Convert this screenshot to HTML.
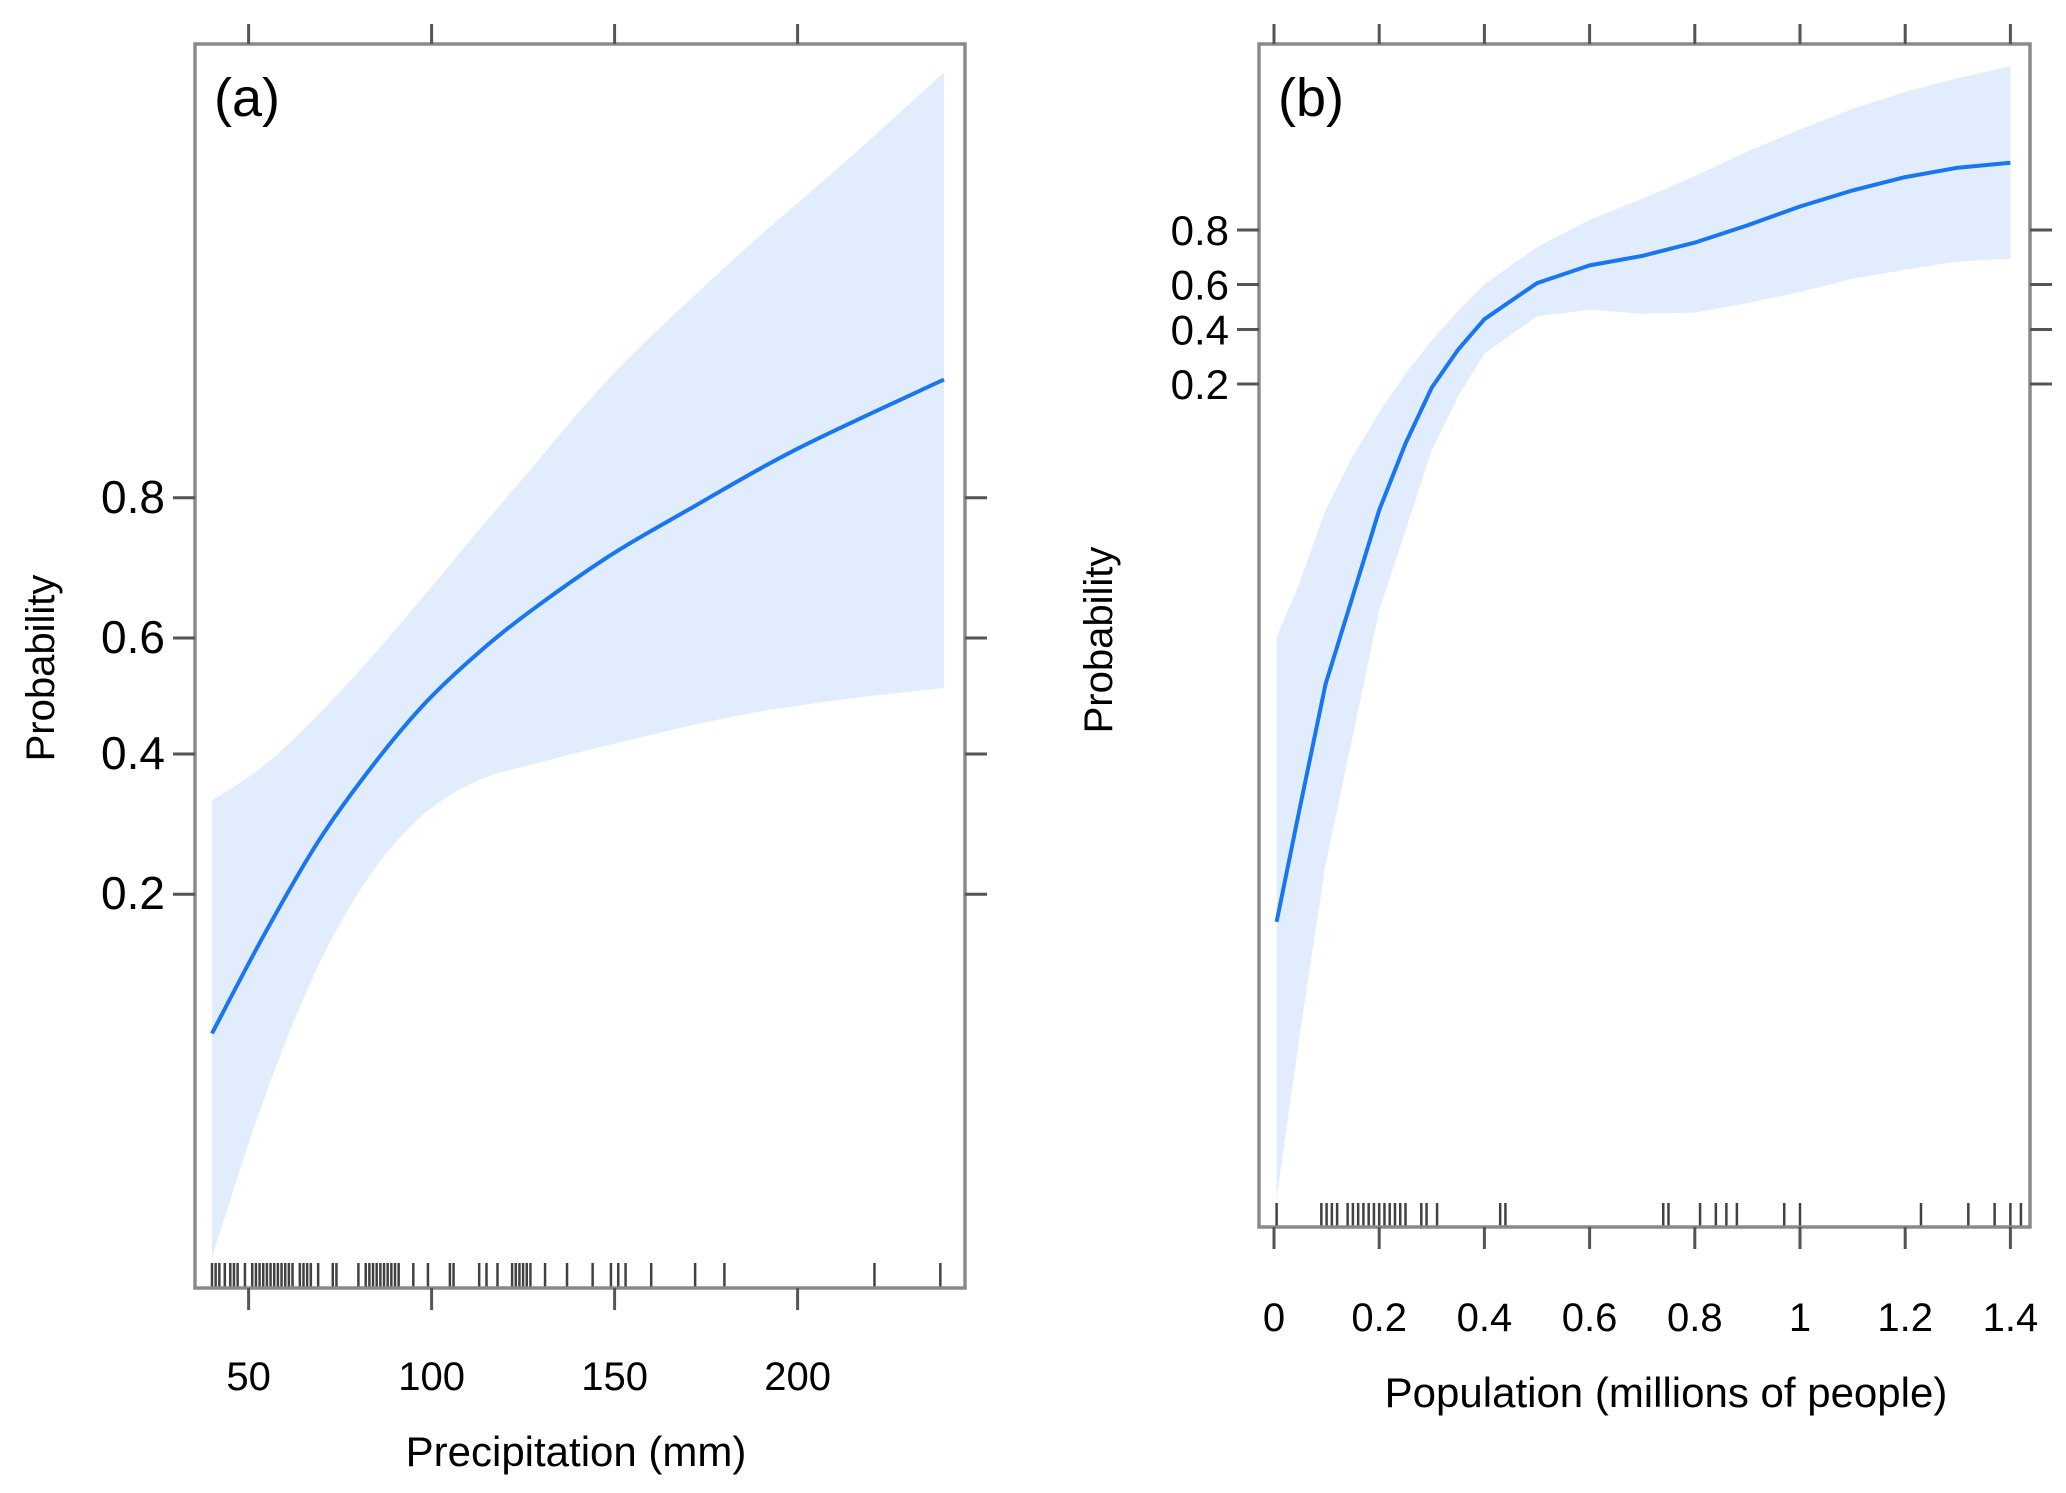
<!DOCTYPE html>
<html><head><meta charset="utf-8"><style>
html,body{margin:0;padding:0;background:#fff;}
svg{display:block;font-family:"Liberation Sans",Arial,sans-serif;}
</style></head><body>
<svg id="chart" width="2066" height="1493" viewBox="0 0 2066 1493"></svg>
<script>
// Panel (a): precipitation effect (values on logit scale)
const aFitX = [40,54.5,69,83.5,98,112.5,127,148.7,170.4,199.4,240];
const aFit = [-2.36,-1.657,-1.019,-0.5,-0.056,0.296,0.593,0.981,1.306,1.722,2.213];
const aUpX = [40,54.5,69,83.5,98,112.5,127,141.4,156,185,214,240];
const aUp = [-0.731,-0.481,-0.13,0.269,0.704,1.148,1.583,2.019,2.417,3.111,3.759,4.361];
const aLoX = [40,54.5,69,83.5,98,112.5,127,156,185,214,240];
const aLo = [-3.926,-2.796,-1.889,-1.241,-0.824,-0.593,-0.481,-0.296,-0.13,-0.019,0.056];
const aRug = [40,41,42,43.5,45,46,47,49,51,52,53,54,55,56,57,58,59,60,61,62,64,65,66,67,69,73,74,80,82,83,84,85,86,87,88,89,90,91,95,99,105,106,113,115,118,122,123,124,125,126,127,131,137,144,149,151,153,160,172,180,221,239];
const aXTicks = [50,100,150,200];
const aYTicks = [0.2,0.4,0.6,0.8];

// Panel (b): population effect (values on logit scale)
const bX = [0.005,0.048,0.098,0.149,0.2,0.25,0.3,0.35,0.4,0.5,0.6,0.7,0.8,0.9,1.0,1.1,1.2,1.3,1.4];
const bFit = [-11.08,-9.08,-6.8,-5.23,-3.66,-2.46,-1.45,-0.77,-0.22,0.43,0.75,0.92,1.16,1.47,1.81,2.1,2.34,2.51,2.6];
const bUp = [-5.95,-4.99,-3.66,-2.7,-1.9,-1.2,-0.6,-0.07,0.41,1.08,1.57,1.95,2.36,2.8,3.2,3.57,3.88,4.12,4.34];
const bLo = [-16.07,-13.18,-10.05,-7.76,-5.47,-4.02,-2.58,-1.61,-0.84,-0.17,-0.05,-0.12,-0.1,0.07,0.27,0.51,0.67,0.82,0.87];
const bRug = [0.005,0.09,0.1,0.11,0.12,0.14,0.15,0.16,0.17,0.18,0.19,0.2,0.21,0.22,0.23,0.24,0.25,0.28,0.29,0.31,0.43,0.44,0.74,0.75,0.81,0.84,0.86,0.88,0.97,1.0,1.23,1.32,1.37,1.4,1.42];
const bXTicks = [0,0.2,0.4,0.6,0.8,1,1.2,1.4];
const bXLabels = ["0","0.2","0.4","0.6","0.8","1","1.2","1.4"];
const bYTicks = [0.2,0.4,0.6,0.8];

const NS="http://www.w3.org/2000/svg";
const svg=document.getElementById('chart');
function mk(tag,attrs,parent){const e=document.createElementNS(NS,tag);for(const k in attrs)e.setAttribute(k,attrs[k]);(parent||svg).appendChild(e);return e;}
const logit=p=>Math.log(p/(1-p));

function pathOf(pts,smooth,start){
  let d=(start?'M':'L')+pts[0][0].toFixed(1)+','+pts[0][1].toFixed(1);
  for(let i=1;i<pts.length;i++){
    if(!smooth){d+='L'+pts[i][0].toFixed(1)+','+pts[i][1].toFixed(1);continue;}
    const p0=pts[Math.max(i-2,0)],p1=pts[i-1],p2=pts[i],p3=pts[Math.min(i+1,pts.length-1)];
    const c1=[p1[0]+(p2[0]-p0[0])/6,p1[1]+(p2[1]-p0[1])/6];
    const c2=[p2[0]-(p3[0]-p1[0])/6,p2[1]-(p3[1]-p1[1])/6];
    d+='C'+c1[0].toFixed(1)+','+c1[1].toFixed(1)+' '+c2[0].toFixed(1)+','+c2[1].toFixed(1)+' '+p2[0].toFixed(1)+','+p2[1].toFixed(1);
  }
  return d;
}

function panel(cfg){
  const g=mk('g',{});
  
  
  const {L,R,T,B}=cfg.box;
  const up=cfg.upX.map((x,i)=>[cfg.sx(x),cfg.sy(cfg.up[i])]);
  const lo=cfg.loX.map((x,i)=>[cfg.sx(x),cfg.sy(cfg.lo[i])]).reverse();
  const band=mk('path',{d:pathOf(up,cfg.smooth,true)+pathOf(lo,cfg.smooth,false)+'Z',fill:'#e1edfd',stroke:'none'},g);
  
  
  const fp=cfg.fitX.map((x,i)=>[cfg.sx(x),cfg.sy(cfg.fit[i])]);
  const line=mk('path',{d:pathOf(fp,cfg.smooth,true),fill:'none',stroke:'#1976f2','stroke-width':4,'stroke-linejoin':'round'},g);
  
  
  cfg.rug.forEach(v=>{
    const x=cfg.sx(v);
    const r=mk('line',{x1:x,x2:x,y1:cfg.rugTop,y2:B,stroke:'#111','stroke-width':2.5,'stroke-opacity':0.8},g);
    
    
  });
  const box=mk('rect',{x:L,y:T,width:R-L,height:B-T,fill:'none',stroke:'#8a8a8a','stroke-width':3.5},g);
  
  
  cfg.xTicks.forEach((v,i)=>{
    const x=cfg.sx(v);
    mk('line',{x1:x,x2:x,y1:B,y2:B+22,stroke:'#555','stroke-width':3},g);
    mk('line',{x1:x,x2:x,y1:T-20,y2:T,stroke:'#555','stroke-width':3},g);
    const t=mk('text',{x:x,y:cfg.xLabY,'text-anchor':'middle','font-size':40,fill:'#000'},g);
    t.textContent=cfg.xLabels[i];
    
    
  });
  cfg.yTicks.forEach(v=>{
    const y=cfg.sy(logit(v));
    mk('line',{x1:L-22,x2:L,y1:y,y2:y,stroke:'#555','stroke-width':3},g);
    mk('line',{x1:R,x2:R+22,y1:y,y2:y,stroke:'#555','stroke-width':3},g);
    const t=mk('text',{x:L-30,y:y+15,'text-anchor':'end','font-size':cfg.yFont,fill:'#000'},g);
    t.textContent=v.toFixed(1);
    
    
  });
  const lab=mk('text',{x:L+19,y:T+72,'font-size':54,fill:'#000'},g);
  lab.textContent=cfg.label;
  
  
  const xt=mk('text',{x:cfg.xTitle[0],y:cfg.xTitle[1],'text-anchor':'middle','font-size':42,fill:'#000'},g);
  xt.textContent=cfg.xTitleText;
  
  
  const yt=mk('text',{x:0,y:0,'text-anchor':'middle','font-size':40,fill:'#000',transform:'translate('+cfg.yTitle[0]+','+cfg.yTitle[1]+') rotate(-90)'},g);
  yt.textContent='Probability';
  
  
}

panel({name:'panel-a-precipitation',box:{L:195,R:965,T:44,B:1288},smooth:true,yFont:46,
  sx:x=>212+(x-40)*3.66, sy:l=>696-l*143,
  fitX:aFitX,fit:aFit,upX:aUpX,up:aUp,loX:aLoX,lo:aLo,rug:aRug,rugTop:1263,
  xTicks:aXTicks,xLabels:aXTicks.map(String),xLabY:1390,yTicks:aYTicks,label:'(a)',
  xTitle:[576,1466],xTitleText:'Precipitation (mm)',yTitle:[54,668]});

panel({name:'panel-b-population',box:{L:1259,R:2030,T:44,B:1227},smooth:false,yFont:42,
  sx:x=>1274+x*526, sy:l=>307-l*55.5,
  fitX:bX,fit:bFit,upX:bX,up:bUp,loX:bX,lo:bLo,rug:bRug,rugTop:1203,
  xTicks:bXTicks,xLabels:bXLabels,xLabY:1331,yTicks:bYTicks,label:'(b)',
  xTitle:[1666,1407],xTitleText:'Population (millions of people)',yTitle:[1112,640]});
</script>
</body></html>
